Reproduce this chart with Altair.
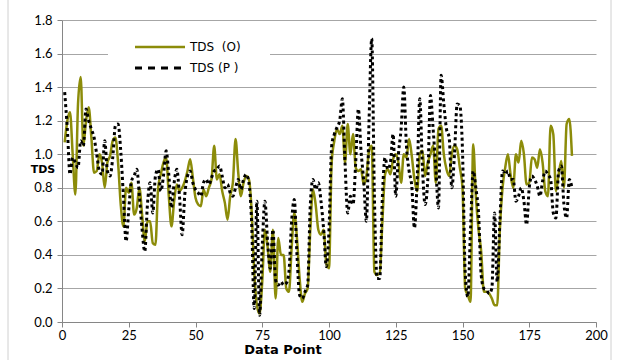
import altair as alt
import pandas as pd

x_idx = list(range(1, 192))

tds_o = [1.07, 1.20, 1.25, 1.00, 0.76, 1.30, 1.46, 1.05, 1.20, 1.28,
         1.10, 0.89, 0.90, 1.00, 0.95, 0.80, 0.95, 0.99, 1.08, 1.10,
         0.95, 0.70, 0.57, 0.80, 0.77, 0.83, 0.64, 0.68, 0.80, 0.64,
         0.48, 0.60, 0.60, 0.47, 0.46, 0.80, 0.88, 0.95, 0.98, 0.75,
         0.57, 0.72, 0.82, 0.78, 0.80, 0.84, 0.90, 0.97, 0.86, 0.74,
         0.70, 0.69, 0.79, 0.75, 0.80, 0.85, 1.05, 0.85, 0.88, 0.78,
         0.71, 0.61, 0.75, 0.83, 1.09, 0.89, 0.75, 0.83, 0.87, 0.85,
         0.67, 0.30, 0.10, 0.05, 0.24, 0.55, 0.45, 0.30, 0.55, 0.14,
         0.50, 0.40, 0.40, 0.20, 0.18, 0.44, 0.65, 0.50, 0.26, 0.12,
         0.17, 0.20, 0.55, 0.79, 0.70, 0.55, 0.52, 0.55, 0.35, 0.32,
         0.95, 1.08, 1.15, 1.12, 1.17, 0.95, 1.18, 1.00, 1.12, 0.92,
         0.90, 0.91, 0.82, 0.87, 1.02, 1.05, 0.30, 0.28, 0.29, 0.60,
         0.88, 0.91, 0.88, 0.97, 1.00, 0.95, 0.83, 1.00, 0.98, 1.09,
         0.99, 0.85, 0.78, 1.00, 1.02, 0.87, 0.95, 1.00, 1.05, 0.83,
         1.15, 1.17, 1.00, 0.91, 0.87, 1.00, 1.05, 1.03, 0.92, 0.80,
         0.20, 0.16, 0.12, 1.06, 0.75, 0.55, 0.42, 0.18, 0.18, 0.17,
         0.14, 0.10, 0.10, 0.55, 0.80, 0.92, 1.00, 0.88, 0.80, 1.00,
         0.95, 1.08, 1.00, 0.82, 0.83, 0.98, 0.97, 0.92, 1.03, 0.95,
         0.78, 0.75, 1.17, 1.12, 0.78, 0.88, 0.96, 0.80, 1.18, 1.21,
         0.99]

tds_p = [1.37, 1.15, 0.88, 0.98, 0.95, 0.92, 1.08, 1.05, 1.27, 1.20,
         1.15, 1.10, 1.00, 0.90, 0.88, 1.08, 0.90, 0.87, 0.98, 1.17,
         1.18, 1.02, 0.75, 0.48, 0.67, 0.84, 0.87, 0.91, 0.75, 0.55,
         0.42, 0.70, 0.83, 0.65, 0.87, 0.91, 0.78, 0.87, 1.02, 0.88,
         0.68, 0.83, 0.91, 0.75, 0.52, 0.76, 0.87, 0.90, 0.83, 0.79,
         0.77, 0.75, 0.83, 0.85, 0.82, 0.86, 0.90, 0.91, 0.93, 0.87,
         0.80, 0.82, 0.77, 0.75, 0.80, 0.85, 0.79, 0.85, 0.88, 0.83,
         0.60, 0.08, 0.72, 0.04, 0.45, 0.72, 0.48, 0.32, 0.55, 0.25,
         0.22, 0.24, 0.22, 0.23, 0.30, 0.60, 0.73, 0.40, 0.16, 0.14,
         0.18, 0.22, 0.70, 0.85, 0.79, 0.83, 0.72, 0.55, 0.33, 0.55,
         1.05, 1.12, 1.16, 1.20, 1.33, 0.95, 0.65, 0.75, 0.70, 0.95,
         1.27, 1.02, 0.84, 0.60, 1.20, 1.69, 0.75, 0.26, 0.26, 0.75,
         0.98, 0.91, 0.95, 1.12, 0.75, 1.00, 1.15, 1.40, 1.05, 0.90,
         0.81, 0.56, 0.84, 1.33, 0.92, 0.70, 0.85, 1.35, 1.15, 0.92,
         0.68, 1.47, 1.30, 1.15, 1.10, 0.80, 1.00, 1.30, 1.29, 1.02,
         0.30, 0.15, 0.55, 0.90, 0.80, 0.65, 0.28, 0.20, 0.19, 0.17,
         0.20, 0.65, 0.24, 0.60, 0.90, 0.88, 0.90, 0.85, 0.85, 0.72,
         0.75, 0.80, 0.72, 0.58, 0.80, 0.87, 0.85, 0.81, 0.75, 0.84,
         0.90, 0.88, 0.85, 0.65, 0.62, 0.90, 0.93, 0.70, 0.62, 0.85,
         0.80]

x_ticks = [0, 25, 50, 75, 100, 125, 150, 175, 200]
y_ticks = [0.0, 0.2, 0.4, 0.6, 0.8, 1.0, 1.2, 1.4, 1.6, 1.8]
legend_o = "TDS\u00a0\u00a0(O)"
legend_p = "TDS\u00a0(P\u00a0)"

FONT = "Lato"
OLIVE = "#8c8c0a"

df_o = pd.DataFrame({"x": x_idx, "v": tds_o})
df_p = pd.DataFrame({"x": x_idx, "v": tds_p})
one = pd.DataFrame({"a": [0]})

xs = alt.X("x:Q", scale=alt.Scale(domain=[0, 200], nice=False, zero=False),
           axis=alt.Axis(values=x_ticks, tickCount=20, title=None, grid=False,
                         labelFont=FONT, labelFontSize=13, labelColor="#000000",
                         domainColor="#868686", tickColor="#868686", tickSize=5,
                         labelPadding=2, labelFlush=False, labelOverlap=False))
ys = alt.Y("v:Q", scale=alt.Scale(domain=[0, 1.8], nice=False),
           axis=alt.Axis(values=y_ticks, tickCount=20, format=".1f", title=None,
                         grid=True, gridColor="#a6a6a6", gridWidth=1, labelFont=FONT,
                         labelFontSize=13, labelColor="#000000", domainColor="#868686",
                         tickColor="#868686", tickSize=5, labelPadding=5,
                         labelOverlap=False, labelFlush=False))

base_o = alt.Chart(df_o).mark_line(color=OLIVE, strokeWidth=2.5,
                                    interpolate="monotone").encode(x=xs, y=ys)
base_p = alt.Chart(df_p).mark_line(color="#000000", strokeWidth=3, interpolate="monotone",
                                    strokeDash=[3, 3]).encode(x="x:Q", y="v:Q")

leg_box = alt.Chart(one).mark_rect(color="white").encode(
    x=alt.value(46), x2=alt.value(208), y=alt.value(12), y2=alt.value(60))
leg_o = alt.Chart(one).mark_rule(color=OLIVE, strokeWidth=2.5).encode(
    x=alt.value(73), x2=alt.value(123), y=alt.value(27))
leg_p = alt.Chart(one).mark_rule(color="#000000", strokeWidth=3, strokeDash=[7, 6]).encode(
    x=alt.value(73), x2=alt.value(123), y=alt.value(48))
leg_to = alt.Chart(one).mark_text(
    align="left", baseline="middle", font="DejaVu Sans", fontSize=12, color="#000000",
    text=legend_o).encode(x=alt.value(128), y=alt.value(27))
leg_tp = alt.Chart(one).mark_text(
    align="left", baseline="middle", font="DejaVu Sans", fontSize=12, color="#000000",
    text=legend_p).encode(x=alt.value(128), y=alt.value(48))

x_title = alt.Chart(one).mark_text(
    font="DejaVu Sans", fontSize=13, fontWeight="bold", color="#000000",
    baseline="middle", text="Data Point").encode(x=alt.value(221), y=alt.value(330))
y_title = alt.Chart(one).mark_text(
    font="DejaVu Sans", fontSize=11, fontWeight="bold", color="#000000",
    baseline="middle", text="TDS").encode(x=alt.value(-19), y=alt.value(150))

border_l = alt.Chart(one).mark_rule(color="#d0d0d0", strokeWidth=1).encode(
    x=alt.value(-54), y=alt.value(-20), y2=alt.value(340))
border_r = alt.Chart(one).mark_rule(color="#d0d0d0", strokeWidth=1).encode(
    x=alt.value(549), y=alt.value(-20), y2=alt.value(340))

chart = alt.layer(base_o, leg_box, base_p, leg_o, leg_p, leg_to, leg_tp,
                  x_title, y_title, border_l, border_r).properties(
    width=534, height=302,
    autosize=alt.AutoSizeParams(type="none"),
    padding={"left": 62, "top": 20, "right": 25, "bottom": 38},
    background="white",
).configure_view(stroke=None)

chart.save("out.html", embed_options={"renderer": "svg", "actions": False})
